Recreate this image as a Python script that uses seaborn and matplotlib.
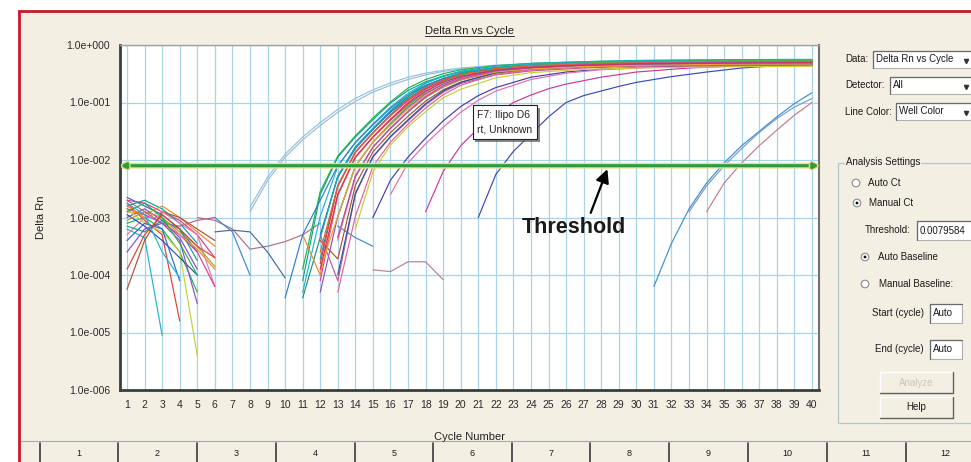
import numpy as np
import pandas as pd
import seaborn as sns
import matplotlib.pyplot as plt
import matplotlib.ticker as mticker
from matplotlib.patches import Rectangle, Circle
from matplotlib import patheffects as pe

# ---- values (log10 of Delta Rn) ----
threshold = 0.0079584
x_cycles = list(range(1, 41))
y_ticks = [1e-6, 1e-5, 1e-4, 1e-3, 1e-2, 1e-1, 1e0]
y_tick_labels = ["1.0e-006", "1.0e-005", "1.0e-004", "1.0e-003", "1.0e-002", "1.0e-001", "1.0e+000"]
plate_columns = [str(i) for i in range(1, 13)]

# baseline noise, cycle 1 onwards
noise_logs = [
    [-2.65, -2.8, -2.95, -3.2, -3.6],
    [-2.7, -2.75, -2.9, -3.05, -3.3, -3.7],
    [-2.8, -2.7, -2.85, -3.1, -3.45],
    [-2.9, -2.95, -2.8, -3.0, -3.25, -3.5],
    [-3.0, -2.85, -3.05, -3.35, -3.9],
    [-3.1, -3.0, -3.2, -3.6, -4.3],
    [-2.75, -3.05, -3.3, -4.8],
    [-3.2, -3.35, -5.05],
    [-2.85, -3.1, -3.25, -3.6, -5.4],
    [-4.25, -3.4, -2.9, -3.0, -3.2, -3.4],
    [-3.3, -3.0, -2.9, -3.1, -3.3, -4.2],
    [-2.95, -3.15, -3.4, -3.7, -4.0],
    [-3.05, -2.9, -3.0, -3.25, -3.5, -3.85],
    [-2.7, -2.9, -3.1, -3.15, -3.05, -3.0],
    [-3.4, -3.1, -3.2, -4.1],
    [-2.85, -2.95, -3.1, -3.3, -3.6, -4.2],
    [-3.15, -3.25, -3.05, -3.2, -3.75],
    [-2.8, -3.0, -3.0, -3.3, -3.55, -3.9],
    [-3.6, -3.2, -3.1, -3.4, -4.5],
    [-2.9, -2.75, -3.0, -3.45, -4.0],
    [-3.9, -3.3, -2.95, -3.2, -3.5, -3.7],
    [-2.75, -2.95, -3.6, -4.05],
]

stray_cycles = [
    [5, 6, 7, 8, 9, 10, 11, 12],
    [6, 7, 8, 9, 10],
    [6, 7, 8],
    [13, 14, 15],
    [15, 16, 17, 18, 19],
]
stray_logs = [
    [-3.0, -3.05, -3.2, -3.55, -3.5, -3.42, -3.3, -3.1],
    [-3.25, -3.22, -3.25, -3.6, -4.05],
    [-3.0, -3.25, -4.0],
    [-3.15, -3.35, -3.5],
    [-3.91, -3.94, -3.77, -3.77, -4.08],
]

early_cycles = [8, 9, 10, 11, 12, 13, 14, 15, 16, 17, 18, 19, 20, 22, 25, 30, 35, 40]
early_logs = [
    [-2.82, -2.3, -1.9, -1.6, -1.35, -1.12, -0.93, -0.78, -0.66, -0.56, -0.49, -0.44, -0.4, -0.35, -0.31, -0.29, -0.28, -0.28],
    [-2.9, -2.36, -1.95, -1.65, -1.4, -1.17, -0.98, -0.82, -0.7, -0.6, -0.52, -0.46, -0.42, -0.36, -0.32, -0.3, -0.29, -0.29],
]

N = None
bundle_cycles = [10, 11, 12, 13, 14, 15, 16, 17, 18, 19, 20, 22, 24, 27, 30, 35, 40]
bundle_logs = [
    [N, -4.1, -2.6, -1.95, -1.6, -1.3, -1.01, -0.79, -0.64, -0.54, -0.47, -0.40, -0.36, -0.33, -0.31, -0.30, -0.30],
    [N, -3.9, -2.55, -1.93, -1.58, -1.27, -0.99, -0.75, -0.6, -0.5, -0.43, -0.36, -0.32, -0.29, -0.27, -0.26, -0.26],
    [N, -4.3, -2.98, -2.11, -1.69, -1.375, -1.08, -0.84, -0.66, -0.545, -0.47, -0.39, -0.345, -0.315, -0.295, -0.285, -0.28],
    [N, -4.4, -3.35, -2.28, -1.775, -1.45, -1.15, -0.9, -0.705, -0.58, -0.495, -0.405, -0.36, -0.33, -0.31, -0.295, -0.29],
    [N, N, -3.3, -2.3, -1.8, -1.47, -1.17, -0.93, -0.745, -0.62, -0.535, -0.445, -0.4, -0.37, -0.35, -0.335, -0.33],
    [N, N, -3.72, -2.44, -1.86, -1.525, -1.21, -0.94, -0.72, -0.585, -0.49, -0.39, -0.345, -0.31, -0.29, -0.275, -0.27],
    [N, N, -3.8, -2.46, -1.87, -1.53, -1.23, -0.965, -0.76, -0.625, -0.53, -0.43, -0.385, -0.35, -0.33, -0.315, -0.31],
    [N, N, -4.1, -2.6, -1.95, -1.6, -1.29, -1.0, -0.77, -0.62, -0.52, -0.41, -0.36, -0.32, -0.3, -0.285, -0.28],
    [N, -3.3, -4.0, -2.62, -1.96, -1.61, -1.31, -1.04, -0.83, -0.68, -0.58, -0.47, -0.42, -0.38, -0.36, -0.345, -0.34],
    [N, N, -4.3, -2.98, -2.11, -1.69, -1.375, -1.085, -0.85, -0.68, -0.565, -0.44, -0.385, -0.345, -0.325, -0.305, -0.3],
    [N, N, N, -3.35, -2.28, -1.775, -1.45, -1.165, -0.915, -0.735, -0.61, -0.47, -0.41, -0.365, -0.34, -0.325, -0.32],
    [N, N, N, -3.4, -2.3, -1.78, -1.44, -1.15, -0.89, -0.705, -0.58, -0.44, -0.38, -0.335, -0.31, -0.295, -0.29],
    [N, N, -3.4, -3.72, -2.44, -1.86, -1.525, -1.24, -0.975, -0.78, -0.645, -0.49, -0.425, -0.38, -0.355, -0.335, -0.33],
    [N, N, -3.3, -4.1, -2.6, -1.95, -1.6, -1.32, -1.04, -0.82, -0.67, -0.52, -0.45, -0.4, -0.37, -0.355, -0.35],
    [N, N, N, -4.0, -2.58, -1.94, -1.59, -1.3, -1.02, -0.8, -0.65, -0.48, -0.41, -0.36, -0.335, -0.315, -0.31],
    [N, N, N, N, -3.2, -2.21, -1.74, -1.42, -1.16, -0.92, -0.77, -0.57, -0.48, -0.425, -0.4, -0.38, -0.37],
    [N, N, N, -4.3, -2.98, -2.11, -1.69, -1.375, -1.095, -0.865, -0.7, -0.51, -0.43, -0.375, -0.35, -0.33, -0.32],
    [-4.4, -3.3, -2.7, -2.1, -1.7, -1.39, -1.1, -0.87, -0.7, -0.59, -0.51, -0.43, -0.39, -0.36, -0.345, -0.335, -0.33],
    [N, N, -3.35, -2.28, -1.775, -1.45, -1.14, -0.87, -0.665, -0.54, -0.455, -0.365, -0.32, -0.29, -0.27, -0.255, -0.25],
    [N, N, N, -2.98, -2.11, -1.69, -1.36, -1.06, -0.81, -0.64, -0.53, -0.41, -0.355, -0.315, -0.295, -0.275, -0.27],
    [N, N, -3.6, -2.45, -1.86, -1.53, -1.22, -0.95, -0.74, -0.605, -0.51, -0.41, -0.365, -0.33, -0.31, -0.295, -0.29],
    [N, N, -3.9, -2.98, -2.11, -1.69, -1.39, -1.11, -0.88, -0.71, -0.595, -0.47, -0.415, -0.375, -0.355, -0.335, -0.33],
    [N, N, N, -3.35, -2.28, -1.775, -1.45, -1.16, -0.9, -0.715, -0.59, -0.45, -0.39, -0.345, -0.32, -0.305, -0.30],
    [N, N, -3.9, -2.6, -1.95, -1.6, -1.3, -1.02, -0.8, -0.65, -0.55, -0.44, -0.39, -0.35, -0.33, -0.315, -0.31],
]

late_cycles = [
    [15, 16, 17, 18, 19, 20, 21, 22, 24, 26, 28, 31, 35, 40],
    [16, 17, 18, 19, 20, 21, 22, 24, 26, 28, 31, 35, 40],
    [18, 19, 20, 21, 22, 23, 24, 25, 26, 28, 30, 33, 36, 40],
    [21, 22, 23, 24, 25, 26, 27, 28, 29, 30, 32, 34, 36, 38, 40],
    [31, 32, 33, 34, 35, 36, 37, 38, 39, 40],
    [33, 34, 35, 36, 37, 38, 39, 40],
    [34, 35, 36, 37, 38, 39, 40],
]
late_logs = [
    [-3.0, -2.35, -1.95, -1.62, -1.32, -1.07, -0.88, -0.74, -0.56, -0.47, -0.42, -0.38, -0.36, -0.35],
    [-2.6, -2.05, -1.72, -1.43, -1.17, -0.96, -0.8, -0.6, -0.49, -0.43, -0.39, -0.37, -0.36],
    [-2.9, -2.2, -1.75, -1.45, -1.2, -1.0, -0.87, -0.76, -0.68, -0.56, -0.47, -0.4, -0.36, -0.34],
    [-3.0, -2.25, -1.85, -1.55, -1.25, -1.0, -0.88, -0.8, -0.72, -0.65, -0.55, -0.47, -0.4, -0.36, -0.34],
    [-4.2, -3.45, -2.85, -2.4, -2.05, -1.75, -1.5, -1.25, -1.02, -0.83],
    [-2.9, -2.45, -2.1, -1.8, -1.52, -1.28, -1.08, -0.93],
    [-2.9, -2.4, -2.05, -1.75, -1.48, -1.22, -1.0],
]

# ---- styles ----
noise_colors = ["#3465d0", "#d83c9c", "#12a08e", "#f0882a", "#8c4cc4", "#22b04a", "#e04030",
                "#1fb3d6", "#c4d236", "#a65530", "#ef78a6", "#2a50ae", "#9aa534", "#c05a8c"]
stray_colors = ["#b07088", "#4a6a9a", "#3a8ad0", "#3a8ad0", "#c07a9a"]
early_colors = ["#8fc3e0", "#9cbad8"]
bundle_colors = ["#12a08e", "#22b04a", "#1fb3d6", "#1f8f6a", "#3465d0", "#14a4a4", "#e04030",
                 "#d83c9c", "#f0882a", "#8c4cc4", "#9aa534", "#ef78a6", "#a65530", "#c05a8c",
                 "#2a50ae", "#c4d236", "#e6609a", "#2d7fd0", "#16b0b8", "#50b848",
                 "#e85a3a", "#f0a030", "#b84ab8", "#d03060"]
late_colors = ["#4a3aa8", "#e070a8", "#c8389c", "#3a4ab0", "#3c8fd0", "#7a9ac8", "#c87a8a"]

rows = []
palette = {}


def add_curves(tag, cyc_lists, log_lists, colors):
    for i, (cyc, logs) in enumerate(zip(cyc_lists, log_lists)):
        name = f"{tag}{i}"
        palette[name] = colors[i % len(colors)]
        for c, v in zip(cyc, logs):
            if v is not None:
                rows.append((name, c, 10.0 ** v))


add_curves("noise", [list(range(1, len(l) + 1)) for l in noise_logs], noise_logs, noise_colors)
add_curves("stray", stray_cycles, stray_logs, stray_colors)
add_curves("late", late_cycles, late_logs, late_colors)
add_curves("early", [early_cycles] * len(early_logs), early_logs, early_colors)
add_curves("well", [bundle_cycles] * len(bundle_logs), bundle_logs, bundle_colors)
df = pd.DataFrame(rows, columns=["well", "cycle", "delta_rn"])

sns.set_style("white")
plt.rcParams["font.family"] = ["Liberation Sans", "DejaVu Sans"]

BEIGE = "#f3f0e3"
fig = plt.figure(figsize=(9.71, 4.62), dpi=100)
fig.patch.set_facecolor("white")

# pixel-space layer for the window chrome
ui = fig.add_axes([0, 0, 1, 1])
ui.set_xlim(0, 971)
ui.set_ylim(462, 0)
ui.axis("off")
ui.add_patch(Rectangle((19, 11), 960, 460, fc=BEIGE, ec="#c41a2c", lw=2))

ax = fig.add_axes([120 / 971, 1 - 390 / 462, 699 / 971, 345 / 462])
ax.set_zorder(2)
ax.set_facecolor("white")

sns.lineplot(data=df, x="cycle", y="delta_rn", hue="well", palette=palette,
             estimator=None, legend=False, linewidth=0.85, ax=ax)

ax.set_yscale("log")
ax.set_ylim(1e-6, 1)
ax.set_xlim(0.6, 40.4)
ax.set_xticks(x_cycles)
ax.set_xticklabels([str(c) for c in x_cycles])
ax.set_yticks(y_ticks)
ax.set_yticklabels(y_tick_labels)
ax.yaxis.set_minor_locator(mticker.NullLocator())
ax.set_axisbelow(True)
ax.grid(True, color="#a9d3ea", lw=0.9)
ax.tick_params(axis="both", length=0, labelsize=7.5, labelcolor="#2a2a2a", pad=7)
for s in ["left", "bottom"]:
    ax.spines[s].set(color="#34423f", lw=2)
ax.spines["top"].set(color="#a0a0a0", lw=1)
ax.spines["right"].set(color="#707070", lw=1.5)

title = ax.set_title("Delta Rn vs Cycle", fontsize=8, pad=8, color="#222")
ax.set_xlabel("Cycle Number", fontsize=8, labelpad=16, color="#222")
ax.set_ylabel("Delta Rn", fontsize=8, labelpad=15, color="#222")

# threshold line
thr = ax.annotate("", xy=(40.4, threshold), xytext=(0.62, threshold), annotation_clip=False,
                  arrowprops=dict(arrowstyle="<|-|>", color="#2f9a3c", lw=2.2,
                                  shrinkA=0, shrinkB=0, mutation_scale=7))
thr.arrow_patch.set_path_effects([pe.Stroke(linewidth=4.2, foreground="#e4df86"), pe.Normal()])
thr.set_zorder(4)

# well tooltip
tip = ax.text(20.95, 10 ** -1.34, "F7: Ilipo D6\nrt, Unknown", fontsize=7.5, va="center", ha="left",
              linespacing=1.55, color="#222", zorder=6,
              bbox=dict(boxstyle="square,pad=0.45", fc="white", ec="#222", lw=0.8))
tip.get_bbox_patch().set_path_effects([pe.withSimplePatchShadow(offset=(2, -2), shadow_rgbFace="#555", alpha=0.7)])

ax.text(23.5, 10 ** -3.18, "Threshold", fontsize=15.5, fontweight="bold", va="center", ha="left",
        color="#1a1a1a", zorder=6)
ax.annotate("", xy=(28.35, 10 ** -2.16), xytext=(27.4, 10 ** -2.92),
            arrowprops=dict(arrowstyle="-|>", color="black", lw=1.6, mutation_scale=20,
                            shrinkA=0, shrinkB=0), zorder=6)

# underline the title
fig.canvas.draw()
bb = title.get_window_extent()
ui.plot([bb.x0, bb.x1], [462 - bb.y0 + 0.5] * 2, color="#333", lw=0.7)

# ---- right-hand control panel ----
FS = 7


def field(x0, y0, x1, y1, text, combo=False):
    ui.add_patch(Rectangle((x0, y0), x1 - x0, y1 - y0, fc="white", ec="#b0b0b0", lw=0.8))
    ui.plot([x0, x0, x1], [y1, y0, y0], color="#6a6a6a", lw=0.9)
    ui.text(x0 + 3, (y0 + y1) / 2, text, fontsize=FS, va="center", ha="left", color="#1a1a1a")
    if combo:
        ui.plot([966], [(y0 + y1) / 2 + 1], marker="v", ms=3, color="#333")


def radio(x, y, on):
    ui.add_patch(Circle((x, y), 3.8, fc="white", ec="#8a8a8a", lw=0.8))
    if on:
        ui.add_patch(Circle((x, y), 1.4, fc="#111", ec="none"))


def button(x0, y0, x1, y1, text, color):
    ui.add_patch(Rectangle((x0, y0), x1 - x0, y1 - y0, fc=BEIGE, ec="none"))
    ui.plot([x0, x0, x1], [y1, y0, y0], color="white", lw=1)
    ui.plot([x0, x1, x1], [y1, y1, y0], color="#606060", lw=1)
    ui.text((x0 + x1) / 2, (y0 + y1) / 2, text, fontsize=FS, va="center", ha="center", color=color)


ui.text(845, 59, "Data:", fontsize=FS, va="center", color="#1a1a1a")
field(873, 51, 980, 68, "Delta Rn vs Cycle", combo=True)
ui.text(845, 85, "Detector:", fontsize=FS, va="center", color="#1a1a1a")
field(890, 77, 980, 94, "All", combo=True)
ui.text(845, 112, "Line Color:", fontsize=FS, va="center", color="#1a1a1a")
field(896, 103, 980, 120, "Well Color", combo=True)

ui.add_patch(Rectangle((838, 163), 150, 260, fc="none", ec="#b8c4cc", lw=0.9))
ui.text(846, 162, "Analysis Settings", fontsize=FS, va="center", color="#1a1a1a",
        bbox=dict(boxstyle="square,pad=0.1", fc=BEIGE, ec="none"))
radio(856, 183, False)
ui.text(868, 183, "Auto Ct", fontsize=FS, va="center", color="#1a1a1a")
radio(857, 203, True)
ui.text(869, 203, "Manual Ct", fontsize=FS, va="center", color="#1a1a1a")
ui.text(911, 230, "Threshold:", fontsize=FS, va="center", ha="right", color="#1a1a1a")
field(917, 221, 980, 240, "0.0079584")
radio(865, 257, True)
ui.text(878, 257, "Auto Baseline", fontsize=FS, va="center", color="#1a1a1a")
radio(865, 284, False)
ui.text(879, 284, "Manual Baseline:", fontsize=FS, va="center", color="#1a1a1a")
ui.text(924, 313, "Start (cycle)", fontsize=FS, va="center", ha="right", color="#1a1a1a")
field(930, 304, 962, 323, "Auto")
ui.text(924, 349, "End (cycle)", fontsize=FS, va="center", ha="right", color="#1a1a1a")
field(930, 340, 962, 359, "Auto")
button(880, 372, 953, 393, "Analyze", "#c9c6ba")
button(880, 397, 953, 418, "Help", "#1a1a1a")

# ---- plate column strip at the bottom ----
ui.plot([21, 971], [441, 441], color="#a8a8a8", lw=0.8)
col_edges = [40, 118, 197, 276, 355, 433, 512, 590, 669, 748, 827, 906, 984]
for xe in col_edges[:-1]:
    ui.plot([xe, xe], [443, 462], color="#3a3a3a", lw=1.2)
for i, lab in enumerate(plate_columns):
    ui.text((col_edges[i] + col_edges[i + 1]) / 2, 453, lab, fontsize=6.5, ha="center", va="center",
            color="#1a1a1a")

fig.savefig("out.png", dpi=100)
